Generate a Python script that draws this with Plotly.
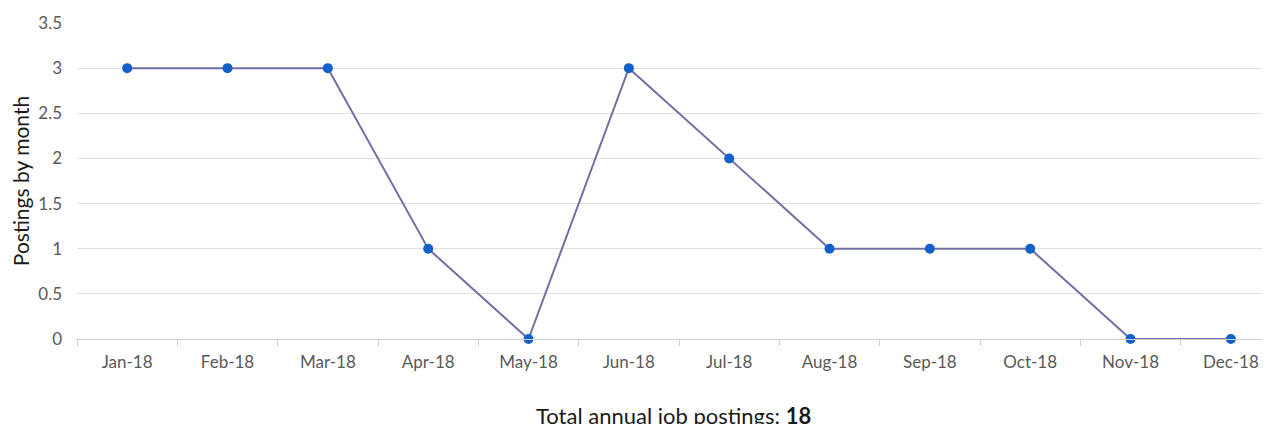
import plotly.graph_objects as go

months = ["Jan-18", "Feb-18", "Mar-18", "Apr-18", "May-18", "Jun-18",
          "Jul-18", "Aug-18", "Sep-18", "Oct-18", "Nov-18", "Dec-18"]
postings = [3, 3, 3, 1, 0, 3, 2, 1, 1, 1, 0, 0]
total = 18

fig = go.Figure()
fig.add_trace(go.Scatter(
    x=months, y=postings, mode="lines+markers",
    line=dict(color="#716fa6", width=2),
    marker=dict(color="#1261cb", size=10),
    cliponaxis=False,
))

fig.update_layout(
    width=1262, height=416,
    margin=dict(l=69, r=0, t=15, b=85),
    paper_bgcolor="white", plot_bgcolor="white",
    font=dict(family="Lato, Open Sans, sans-serif", color="#595959", size=17),
    showlegend=False,
    xaxis=dict(
        type="category", range=[-0.5, 11.39],
        showgrid=False, showline=True, linecolor="#d0d0d0", linewidth=1,
        ticks="outside", tickson="boundaries", ticklen=6, tickcolor="#d0d0d0",
        tickfont=dict(size=17, color="#595959"), ticklabelstandoff=8,
    ),
    yaxis=dict(
        range=[0, 3.5], dtick=0.5, showgrid=True, gridcolor="#e0e0e0",
        zeroline=False, showline=False, ticks="", ticklen=0,
        tickfont=dict(size=17, color="#595959"), ticklabelstandoff=14,
        title=dict(text="Postings by month", font=dict(size=21, color="#1a1a1a"), standoff=6),
    ),
    annotations=[dict(
        text=f"Total annual job postings: <b>{total}</b>",
        xref="paper", yref="paper", x=0.5, y=0, xanchor="center", yanchor="middle",
        yshift=-76, showarrow=False, font=dict(size=22, color="#1a1a1a"),
    )],
)

fig.write_html("out.html")
